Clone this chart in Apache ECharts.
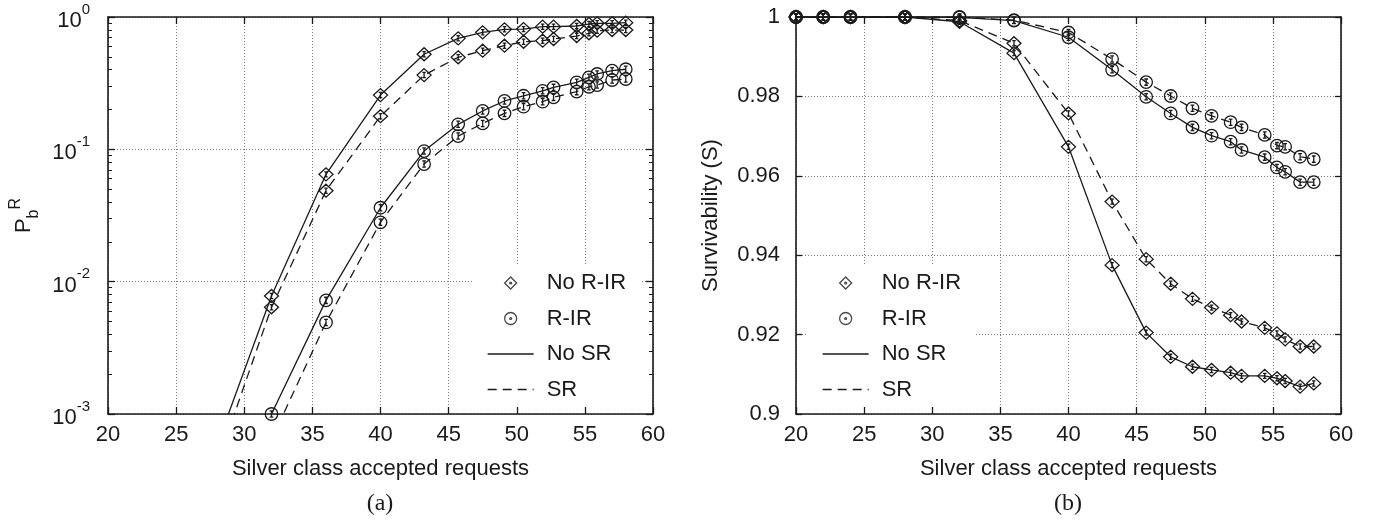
<!DOCTYPE html>
<html>
<head>
<meta charset="utf-8">
<title>Blocking probability and survivability vs silver class accepted requests</title>
<script src="https://cdn.jsdelivr.net/npm/echarts@6/dist/echarts.min.js"></script>
<style>
  html, body { margin: 0; padding: 0; background: #fff; }
  .panel { position: absolute; top: 0; width: 688px; height: 527px; }
  #chartA { left: 0; }
  #chartB { left: 688px; }
</style>
</head>
<body>
<div id="chartA" class="panel"></div>
<div id="chartB" class="panel"></div>
<script>
// x positions of the simulated points (silver class accepted requests)
const X_VALUES = [20, 22, 24, 28, 32, 36, 40, 43.2, 45.7, 47.5, 49.1, 50.5, 51.9, 52.7, 54.4, 55.3, 55.9, 57, 58];

// (a) blocking probability P_b^R (log scale), null = not plotted
const A_NORIR_NOSR = [null, null, null, 5.8e-4, 0.0078, 0.0647, 0.257, 0.523, 0.69, 0.766, 0.807, 0.81, 0.845, 0.845, 0.855, 0.885, 0.896, 0.896, 0.906];
const A_NORIR_SR   = [null, null, null, 4.2e-4, 0.0064, 0.0487, 0.178, 0.364, 0.496, 0.556, 0.607, 0.65, 0.662, 0.682, 0.718, 0.753, 0.788, 0.797, 0.797];
const A_RIR_NOSR   = [null, null, null, null, 0.001, 0.00722, 0.0362, 0.097, 0.1545, 0.195, 0.232, 0.254, 0.277, 0.294, 0.321, 0.35, 0.371, 0.393, 0.403];
const A_RIR_SR     = [null, null, null, null, 6.4e-4, 0.00492, 0.0281, 0.0774, 0.126, 0.157, 0.187, 0.21, 0.229, 0.247, 0.273, 0.297, 0.306, 0.334, 0.34];

// (b) survivability S
const B_NORIR_NOSR = [1, 1, 1, 1, 0.9988, 0.9909, 0.9673, 0.9375, 0.9205, 0.9144, 0.9119, 0.9111, 0.9104, 0.9096, 0.9096, 0.909, 0.9083, 0.9069, 0.9077];
const B_NORIR_SR   = [1, 1, 1, 1, 0.9991, 0.9934, 0.9757, 0.9535, 0.939, 0.9328, 0.929, 0.9268, 0.9249, 0.9233, 0.9217, 0.9203, 0.9188, 0.917, 0.917];
const B_RIR_NOSR   = [1, 1, 1, 1, 0.9999, 0.9991, 0.9949, 0.9867, 0.9799, 0.9757, 0.9722, 0.9701, 0.9686, 0.9665, 0.9647, 0.9621, 0.961, 0.9584, 0.9584];
const B_RIR_SR     = [1, 1, 1, 1, 1, 0.9992, 0.9961, 0.9894, 0.9836, 0.9801, 0.977, 0.9751, 0.9735, 0.9722, 0.9703, 0.9676, 0.9673, 0.9648, 0.9642];

const LEGEND_NAMES = ['No R-IR', 'R-IR', 'No SR', 'SR'];
const X_NAME = 'Silver class accepted requests';
const X_MIN = 20, X_MAX = 60, X_STEP = 5;
const A_Y_MIN = 1e-3, A_Y_MAX = 1;
const B_Y_MIN = 0.9, B_Y_MAX = 1, B_Y_STEP = 0.02;

const INK = '#1a1a1a';
const FONT = '"Liberation Sans", Arial, sans-serif';
const DASH = [9, 6];

// hollow markers with a small error bar inside
const SYM_DIAMOND = 'path://M0,-10L10,0L0,10L-10,0Z M0,-4L0,4 M-2.5,-4L2.5,-4 M-2.5,4L2.5,4';
const SYM_CIRCLE = 'path://M10,0A10,10,0,1,1,-10,0A10,10,0,1,1,10,0Z M0,-5L0,5 M-3,-5L3,-5 M-3,5L3,5';
// legend icons: hollow marker with a dot
const ICON_DIAMOND = 'path://M0,-10L10,0L0,10L-10,0Z M1.6,0A1.6,1.6,0,1,1,-1.6,0A1.6,1.6,0,1,1,1.6,0Z';
const ICON_CIRCLE = 'path://M10,0A10,10,0,1,1,-10,0A10,10,0,1,1,10,0Z M1.6,0A1.6,1.6,0,1,1,-1.6,0A1.6,1.6,0,1,1,1.6,0Z';

const pairs = ys => X_VALUES.map((x, i) => [x, ys[i]]).filter(p => p[1] != null);

const hollow = { color: 'rgba(0,0,0,0)', borderColor: INK, borderWidth: 1.3 };

function dataSeries(name, ys, symbol, dashed) {
  return {
    name,
    type: 'line',
    data: pairs(ys),
    symbol,
    symbolSize: symbol === SYM_DIAMOND ? [14, 13] : 12.5,
    showSymbol: true,
    clip: true,
    silent: true,
    lineStyle: { color: INK, width: 1.3, type: dashed ? DASH : 'solid' },
    itemStyle: hollow,
    emphasis: { disabled: true },
  };
}

// empty series that only feed the legend
function legendSeries() {
  return [
    { name: LEGEND_NAMES[0], type: 'scatter', data: [], itemStyle: hollow },
    { name: LEGEND_NAMES[1], type: 'scatter', data: [], itemStyle: hollow },
    { name: LEGEND_NAMES[2], type: 'line', data: [], symbol: 'none', lineStyle: { color: INK, width: 1.3 } },
    { name: LEGEND_NAMES[3], type: 'line', data: [], symbol: 'none', lineStyle: { color: INK, width: 1.3, type: DASH } },
  ];
}

function buildOption(cfg) {
  const axisLine = { show: true, onZero: false, lineStyle: { color: INK, width: 1.6 } };
  const majorTick = { show: true, inside: true, length: 7, lineStyle: { color: INK, width: 1.3 } };
  const gridLine = { show: true, lineStyle: { color: '#7a7a7a', width: 1, type: [1, 2] } };
  const xCommon = { type: 'value', min: X_MIN, max: X_MAX, interval: X_STEP };

  const xAxis = [
    {
      ...xCommon, position: 'bottom',
      name: X_NAME, nameLocation: 'middle', nameGap: 44,
      nameTextStyle: { fontSize: 22, color: INK, fontFamily: FONT },
      axisLine, axisTick: majorTick,
      axisLabel: { fontSize: 22, color: INK, margin: 10, fontFamily: FONT },
      splitLine: gridLine,
    },
    {
      ...xCommon, position: 'top',
      axisLine, axisTick: majorTick,
      axisLabel: { show: false }, splitLine: { show: false },
    },
  ];

  return {
    animation: false,
    textStyle: { fontFamily: FONT },
    grid: { left: 108, right: 35, top: 17, bottom: 113, outerBoundsMode: 'none' },
    xAxis,
    yAxis: cfg.yAxis(axisLine, majorTick, gridLine),
    legend: {
      orient: 'vertical',
      left: cfg.legendLeft, top: 265,
      padding: [7, 14, 6, cfg.legendPadLeft],
      backgroundColor: '#fff',
      itemWidth: 46, itemHeight: 12, itemGap: 13.5,
      selectedMode: false,
      textStyle: { fontSize: 22, color: INK, fontFamily: FONT, padding: [0, 0, 0, 8] },
      data: [
        { name: LEGEND_NAMES[0], icon: ICON_DIAMOND, itemStyle: hollow },
        { name: LEGEND_NAMES[1], icon: ICON_CIRCLE, itemStyle: hollow },
        { name: LEGEND_NAMES[2], itemStyle: { opacity: 0 }, lineStyle: { color: INK, width: 1.3, type: 'solid' } },
        { name: LEGEND_NAMES[3], itemStyle: { opacity: 0 }, lineStyle: { color: INK, width: 1.3, type: DASH } },
      ],
    },
    graphic: [{
      type: 'text', x: 380, y: 504,
      style: {
        text: cfg.tag, fontSize: 24, fill: INK, align: 'center', verticalAlign: 'middle',
        fontFamily: '"Liberation Serif", "Times New Roman", serif',
      },
    }],
    series: [
      dataSeries('No R-IR, No SR', cfg.data[0], SYM_DIAMOND, false),
      dataSeries('No R-IR, SR', cfg.data[1], SYM_DIAMOND, true),
      dataSeries('R-IR, No SR', cfg.data[2], SYM_CIRCLE, false),
      dataSeries('R-IR, SR', cfg.data[3], SYM_CIRCLE, true),
      ...legendSeries(),
    ],
  };
}

// minor log ticks 2..9 in each decade
const LOG_MINOR = [];
for (let e = -3; e < 0; e++) for (let m = 2; m <= 9; m++) LOG_MINOR.push(+(m * Math.pow(10, e)).toPrecision(6));

const optA = buildOption({
  tag: '(a)',
  legendLeft: 473,
  legendPadLeft: 14,
  data: [A_NORIR_NOSR, A_NORIR_SR, A_RIR_NOSR, A_RIR_SR],
  yAxis: (axisLine, majorTick, gridLine) => {
    const yc = { type: 'log', logBase: 10, min: A_Y_MIN, max: A_Y_MAX };
    const minorTick = { show: true, inside: true, length: 4, customValues: LOG_MINOR, lineStyle: { color: INK, width: 1 } };
    return [
      {
        ...yc, position: 'left',
        name: '{p|P}{sub|b}{sup|R}', nameLocation: 'middle', nameGap: 65,
        nameTextStyle: {
          color: INK,
          rich: {
            p: { fontSize: 22, lineHeight: 34, color: INK, fontFamily: FONT },
            sub: { fontSize: 16, verticalAlign: 'bottom', color: INK, fontFamily: FONT },
            sup: { fontSize: 16, verticalAlign: 'top', color: INK, fontFamily: FONT },
          },
        },
        axisLine, axisTick: majorTick,
        axisLabel: {
          margin: 18, color: INK,
          formatter: v => '{b|10}{s|' + Math.round(Math.log10(v)) + '}',
          rich: {
            b: { fontSize: 22, lineHeight: 30, verticalAlign: 'bottom', color: INK, fontFamily: FONT },
            s: { fontSize: 15, verticalAlign: 'top', color: INK, fontFamily: FONT },
          },
        },
        splitLine: gridLine,
      },
      { ...yc, position: 'right', axisLine, axisTick: majorTick, axisLabel: { show: false }, splitLine: { show: false } },
      { ...yc, position: 'left', axisLine: { show: false }, axisTick: minorTick, axisLabel: { show: false }, splitLine: { show: false } },
      { ...yc, position: 'right', axisLine: { show: false }, axisTick: minorTick, axisLabel: { show: false }, splitLine: { show: false } },
    ];
  },
});

const optB = buildOption({
  tag: '(b)',
  legendLeft: 118,
  legendPadLeft: 16,
  data: [B_NORIR_NOSR, B_NORIR_SR, B_RIR_NOSR, B_RIR_SR],
  yAxis: (axisLine, majorTick, gridLine) => {
    const yc = { type: 'value', min: B_Y_MIN, max: B_Y_MAX, interval: B_Y_STEP };
    const tick = { ...majorTick, length: 6 };
    return [
      {
        ...yc, position: 'left',
        name: 'Survivability (S)', nameLocation: 'middle', nameGap: 74,
        nameTextStyle: { fontSize: 22, color: INK, fontFamily: FONT },
        axisLine, axisTick: tick,
        axisLabel: { fontSize: 22, color: INK, margin: 16, fontFamily: FONT },
        splitLine: gridLine,
      },
      { ...yc, position: 'right', axisLine, axisTick: tick, axisLabel: { show: false }, splitLine: { show: false } },
    ];
  },
});

echarts.init(document.getElementById('chartA'), null, { renderer: 'canvas' }).setOption(optA);
echarts.init(document.getElementById('chartB'), null, { renderer: 'canvas' }).setOption(optB);
</script>
</body>
</html>
